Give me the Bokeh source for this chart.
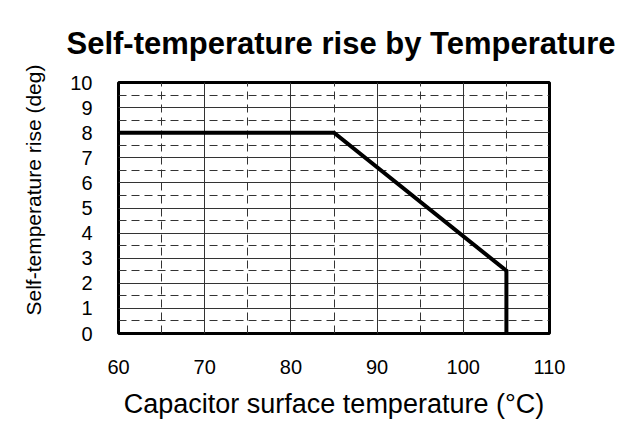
from bokeh.plotting import figure
from bokeh.models import Range1d, SingleIntervalTicker, Title
from bokeh.embed import file_html
from bokeh.resources import INLINE

# Data
temp_x = [60, 85, 105, 105]
rise_y = [8, 8, 2.5, 0]
x_ticks = [60, 70, 80, 90, 100, 110]
y_ticks = list(range(0, 11))

FONT = "Liberation Sans"

p = figure(width=644, height=421, output_backend="svg", toolbar_location=None,
           x_range=Range1d(60, 110), y_range=Range1d(0, 10),
           min_border_left=118, min_border_right=95, min_border_top=82, min_border_bottom=87)

p.title.text = "Self-temperature rise by Temperature"
p.title.text_font = FONT
p.title.text_font_size = "31px"
p.title.text_font_style = "bold"
p.title.text_color = "black"
p.title.align = "left"
p.title.offset = -52
p.title.vertical_align = "bottom"
p.title.standoff = 44

p.outline_line_color = "black"
p.outline_line_width = 3

xt = SingleIntervalTicker(interval=10, num_minor_ticks=2)
yt = SingleIntervalTicker(interval=1, num_minor_ticks=2)
p.xaxis.ticker = xt
p.yaxis.ticker = yt
p.xgrid.ticker = xt
p.ygrid.ticker = yt

for ax in (p.xaxis[0], p.yaxis[0]):
    ax.axis_line_color = None
    ax.major_tick_line_color = None
    ax.minor_tick_line_color = None
    ax.major_label_text_font = FONT
    ax.major_label_text_font_size = "20px"
    ax.major_label_text_color = "black"
    ax.axis_label_text_font = FONT
    ax.axis_label_text_font_style = "normal"
    ax.axis_label_text_color = "black"

p.xaxis.axis_label = "Capacitor surface temperature (°C)"
p.xaxis.axis_label_text_font_size = "27px"
p.xaxis.major_label_standoff = 20
p.xaxis.axis_label_standoff = 12

p.yaxis.major_label_standoff = 20

ylab = Title(text="Self-temperature rise  (deg)", align="left", offset=18,
             vertical_align="top",
             text_font=FONT, text_font_size="21px", text_font_style="normal",
             text_color="black", standoff=42)
p.add_layout(ylab, "left")

for g in (p.xgrid[0], p.ygrid[0]):
    g.grid_line_color = "#333333"
    g.grid_line_width = 1
    g.grid_line_alpha = 1
    g.minor_grid_line_color = "#333333"
    g.minor_grid_line_dash = "8 5"
    g.minor_grid_line_width = 1

p.line(temp_x, rise_y, line_color="black", line_width=4, line_join="miter")

open("out.html", "w").write(file_html(p, INLINE))
